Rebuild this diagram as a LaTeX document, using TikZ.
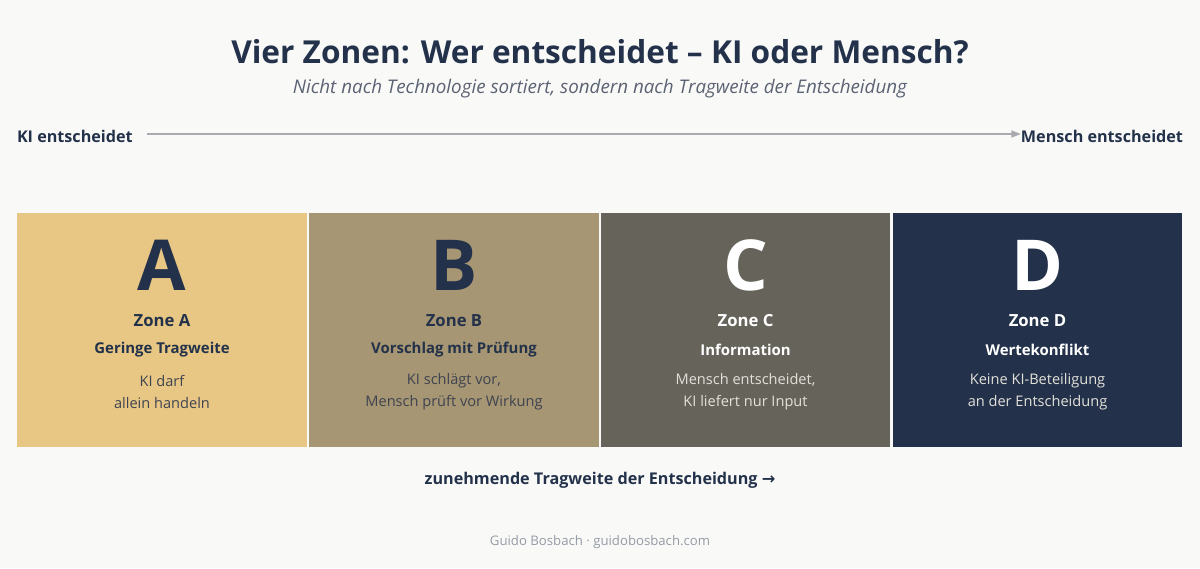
\documentclass[tikz,border=0pt]{standalone}
\usepackage{fontspec}
\setmainfont{Open Sans}
\newfontfamily\arrowfont{DejaVu Sans}
\usetikzlibrary{arrows.meta}

\definecolor{bgcol}{HTML}{F9F9F8}
\definecolor{navy}{HTML}{23324A}
\definecolor{subgray}{HTML}{5B6272}
\definecolor{linegray}{HTML}{A9ABB0}
\definecolor{footgray}{HTML}{959BA5}
\definecolor{zoneAcol}{HTML}{E8C785}
\definecolor{zoneBcol}{HTML}{A69673}
\definecolor{zoneCcol}{HTML}{66645A}
\definecolor{zoneDcol}{HTML}{23324A}
\definecolor{descdark}{HTML}{3E4350}
\definecolor{desclight}{HTML}{E2E0DA}

\tikzset{
  zonebox/.style={minimum width=5.8cm, minimum height=4.68cm, inner sep=0pt},
  bigletter/.style={font=\fontsize{40}{40}\selectfont\bfseries},
  zonetitle/.style={font=\fontsize{9.5}{11}\selectfont\bfseries},
  zonesub/.style={font=\fontsize{8.5}{11}\selectfont\bfseries},
  zonedesc/.style={font=\fontsize{8.3}{12.5}\selectfont, align=center},
  sidelabel/.style={font=\fontsize{9.2}{11}\selectfont\bfseries, text=navy}
}

\begin{document}
\begin{tikzpicture}[x=0.02cm, y=-0.02cm, every node/.style={inner sep=0pt, outer sep=0pt}]
	\fill[bgcol] (0,0) rectangle (1200,568);
	\useasboundingbox (0,0) rectangle (1200,568);

	% title
	\node[font=\fontsize{18}{22}\selectfont\bfseries, text=navy] (title) at (600,52) {Vier Zonen: Wer entscheidet -- KI oder Mensch?};
	\node[font=\fontsize{10.7}{13}\selectfont\itshape, text=subgray] (subtitle) at (600,89) {Nicht nach Technologie sortiert, sondern nach Tragweite der Entscheidung};

	% axis
	\node[sidelabel, anchor=west] (ki) at (17,136) {KI entscheidet};
	\node[sidelabel, anchor=east] (mensch) at (1183,136) {Mensch entscheidet};
	\draw[linegray, line width=0.8pt, -{Triangle[length=5.5pt, width=4pt]}, shorten <=0.28cm] ([yshift=0.04cm]ki.east) -- ([yshift=0.04cm]mensch.west);

	% zones
	\foreach \l/\cx/\fc/\tc/\dc/\sub/\desc in {
		A/162/zoneAcol/navy/descdark/Geringe Tragweite/{KI darf\\allein handeln},
		B/454/zoneBcol/navy/descdark/Vorschlag mit Prüfung/{KI schlägt vor,\\Mensch prüft vor Wirkung},
		C/745.5/zoneCcol/white/desclight/Information/{Mensch entscheidet,\\KI liefert nur Input},
		D/1037.5/zoneDcol/white/desclight/Wertekonflikt/{Keine KI-Beteiligung\\an der Entscheidung}}
	{
		\node[zonebox, fill=\fc] (box\l) at (\cx,330) {};
		\node[bigletter, text=\tc] (letter\l) at (\cx,265) {\l};
		\node[zonetitle, text=\tc] (zone\l) at (\cx,321) {Zone \l};
		\node[zonesub, text=\tc] (sub\l) at (\cx,350) {\sub};
		\node[zonedesc, text=\dc] (desc\l) at (\cx,392) {\desc};
	}

	% bottom
	\node[sidelabel] (tragweite) at (600,480) {zunehmende Tragweite der Entscheidung {\arrowfont →}};
	\node[font=\fontsize{7.5}{9}\selectfont, text=footgray] (footer) at (600,542) {Guido Bosbach · guidobosbach.com};
\end{tikzpicture}
\end{document}
